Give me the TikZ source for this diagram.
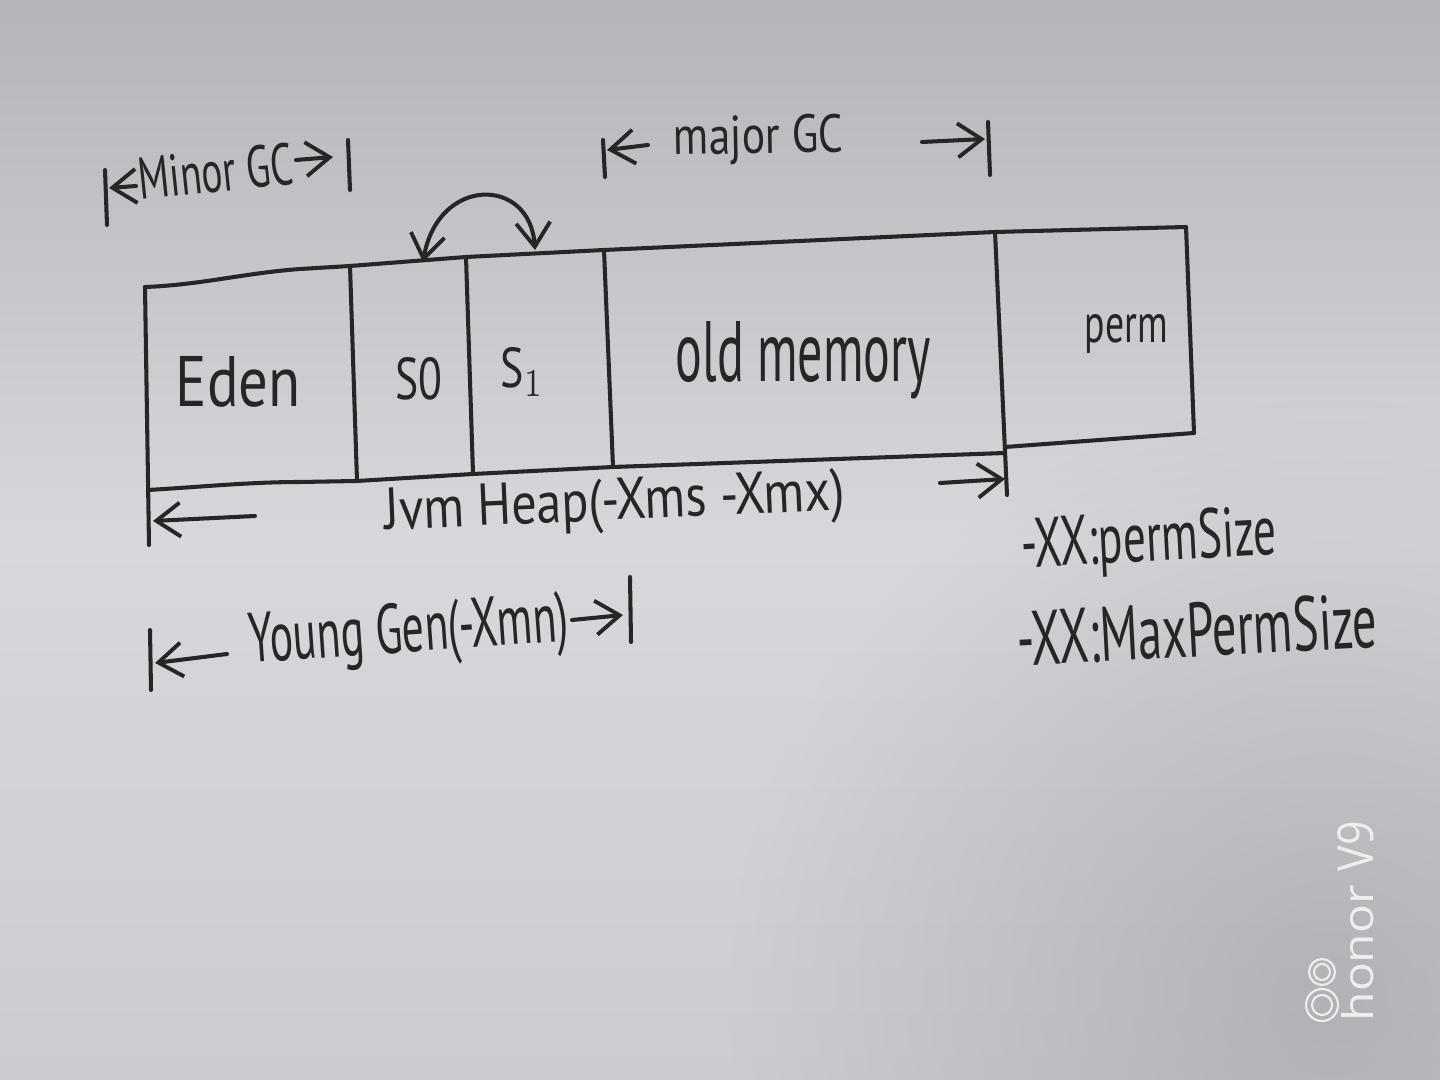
\documentclass[tikz,border=0pt]{standalone}
\usepackage{fontspec}
\setmainfont{PT Sans}
\newfontfamily\wmfont{Open Sans}
\usepackage{graphicx}
\usetikzlibrary{arrows.meta,fadings}
\definecolor{ink}{RGB}{38,38,40}
\definecolor{bgtop}{RGB}{180,180,185}
\definecolor{bgmid}{RGB}{216,216,220}
\definecolor{bgbot}{RGB}{204,204,208}
\definecolor{bgdark}{RGB}{160,160,164}
\definecolor{wmcol}{RGB}{238,238,240}
\newcommand{\hw}[3]{\resizebox{#1cm}{#2cm}{#3}}
\tikzfading[name=cornerfade, inner color=transparent!0, outer color=transparent!100]
\tikzset{
  hand/.tip={Straight Barb[length=2.4mm,width=3.4mm,line width=1.1pt]},
  inkline/.style={draw=ink, line width=1.15pt, line cap=round, line join=round},
  harrow/.style={inkline, -hand},
  lbl/.style={inner sep=0pt, anchor=base west, text=ink},
  wm/.style={inner sep=0pt, anchor=base west, text=wmcol, rotate=90}
}
\begin{document}
\begin{tikzpicture}[x=0.01cm,y=-0.01cm]
\shade[top color=bgtop, bottom color=bgmid] (0,0) rectangle (1440,541);
\shade[top color=bgmid, bottom color=bgbot] (0,540) rectangle (1440,1080);
\begin{scope}
\clip (0,0) rectangle (1440,1080);
\fill[bgdark, path fading=cornerfade, fill opacity=0.6] (1330,1000) circle (600);
\end{scope}
\useasboundingbox (0,0) rectangle (1440,1080);

% ---- box corners and dividers
\coordinate (t0) at (145,287);
\coordinate (t1) at (350,266);
\coordinate (t2) at (466,257);
\coordinate (t3) at (604,250);
\coordinate (t4) at (995,232);
\coordinate (t5) at (1186,227);
\coordinate (b0) at (148,490);
\coordinate (b1) at (357,481);
\coordinate (b2) at (473,474);
\coordinate (b3) at (613,467);
\coordinate (b4) at (1005,453);
\coordinate (p4) at (1005,447);
\coordinate (b5) at (1194,433);
\coordinate (lend) at (149,545);
\coordinate (rend) at (1007,495);

\draw[inkline] (t0) .. controls (200,285) and (245,273) .. (300,269) -- (t1) -- (t2) -- (t3) -- (t4) -- (t5);
\draw[inkline] (b0) .. controls (200,487) and (250,482) .. (300,482) -- (b1) -- (b2) -- (b3) -- (b4);
\draw[inkline] (p4) -- (b5);
\draw[inkline] (t0) -- (lend);
\draw[inkline] (t1) -- (b1);
\draw[inkline] (t2) -- (b2);
\draw[inkline] (t3) -- (b3);
\draw[inkline] (t4) -- (rend);
\draw[inkline] (t5) -- (b5);

% ---- region labels
\node[lbl] (eden) at (175,407) {\hw{1.25}{0.5}{Eden}};
\node[lbl] (s0) at (395,400) {\hw{0.47}{0.42}{S0}};
\node[lbl] (s1) at (500,388) {\hw{0.43}{0.4}{S$_1$}};
\node[lbl] (old) at (675,382) {\hw{2.55}{0.6}{old memory}};
\node[lbl] (perm) at (1084,343) {\hw{0.83}{0.28}{perm}};

% ---- S0 <-> S1 curved arrow
\coordinate (cl) at (423,262);
\coordinate (cr) at (535,250);
\draw[inkline, hand-hand] (cl) .. controls (438,176) and (530,176) .. (cr);

% ---- minor GC
\coordinate (mi1) at (105,170);
\coordinate (mi2) at (107,225);
\coordinate (mi3) at (136,186);
\coordinate (mi4) at (109,188);
\coordinate (mi5) at (296,160);
\coordinate (mi6) at (333,157);
\coordinate (mi7) at (348,140);
\coordinate (mi8) at (350,190);
\draw[inkline] (mi1) -- (mi2);
\draw[harrow] (mi3) -- (mi4);
\node[lbl, rotate=6] (minor) at (140,200) {\hw{1.55}{0.42}{Minor GC}};
\draw[harrow] (mi5) -- (mi6);
\draw[inkline] (mi7) -- (mi8);

% ---- major GC
\coordinate (ma1) at (603,140);
\coordinate (ma2) at (605,177);
\coordinate (ma3) at (648,145);
\coordinate (ma4) at (607,150);
\coordinate (ma5) at (922,142);
\coordinate (ma6) at (985,139);
\coordinate (ma7) at (988,122);
\coordinate (ma8) at (990,175);
\draw[inkline] (ma1) -- (ma2);
\draw[harrow] (ma3) -- (ma4);
\node[lbl, rotate=1] (major) at (673,155) {\hw{1.7}{0.38}{major GC}};
\draw[harrow] (ma5) -- (ma6);
\draw[inkline] (ma7) -- (ma8);

% ---- JVM heap
\coordinate (jl1) at (255,516);
\coordinate (jl2) at (153,521);
\coordinate (jr1) at (940,483);
\coordinate (jr2) at (1005,479);
\draw[harrow] (jl1) -- (jl2);
\node[lbl, rotate=2.5] (jvm) at (385,530) {\hw{4.6}{0.42}{Jvm Heap(-Xms -Xmx)}};
\draw[harrow] (jr1) -- (jr2);

% ---- Young Gen
\coordinate (y1) at (150,630);
\coordinate (y2) at (151,690);
\coordinate (y3) at (227,654);
\coordinate (y4) at (155,663);
\coordinate (y5) at (572,620);
\coordinate (y6) at (623,615);
\coordinate (y7) at (630,577);
\coordinate (y8) at (631,642);
\draw[inkline] (y1) -- (y2);
\draw[harrow] (y3) -- (y4);
\node[lbl, rotate=4] (young) at (250,663) {\hw{3.2}{0.5}{Young Gen(-Xmn)}};
\draw[harrow] (y5) -- (y6);
\draw[inkline] (y7) -- (y8);

% ---- perm size options
\node[lbl, rotate=3] (ps) at (1022,568) {\hw{2.55}{0.5}{-XX:permSize}};
\node[lbl, rotate=3] (mps) at (1018,666) {\hw{3.6}{0.55}{-XX:MaxPermSize}};

% ---- watermark
\node[wm] (hon) at (1373,1022) {\wmfont\hw{1.36}{0.32}{honor}};
\node[wm] (v9) at (1373,872) {\wmfont\hw{0.5}{0.36}{V9}};
\draw[wmcol, line width=0.6pt] (1322,972) circle (13) (1322,972) circle (8);
\draw[wmcol, line width=0.6pt] (1322,1005) circle (16) (1322,1005) circle (10);
\end{tikzpicture}
\end{document}
